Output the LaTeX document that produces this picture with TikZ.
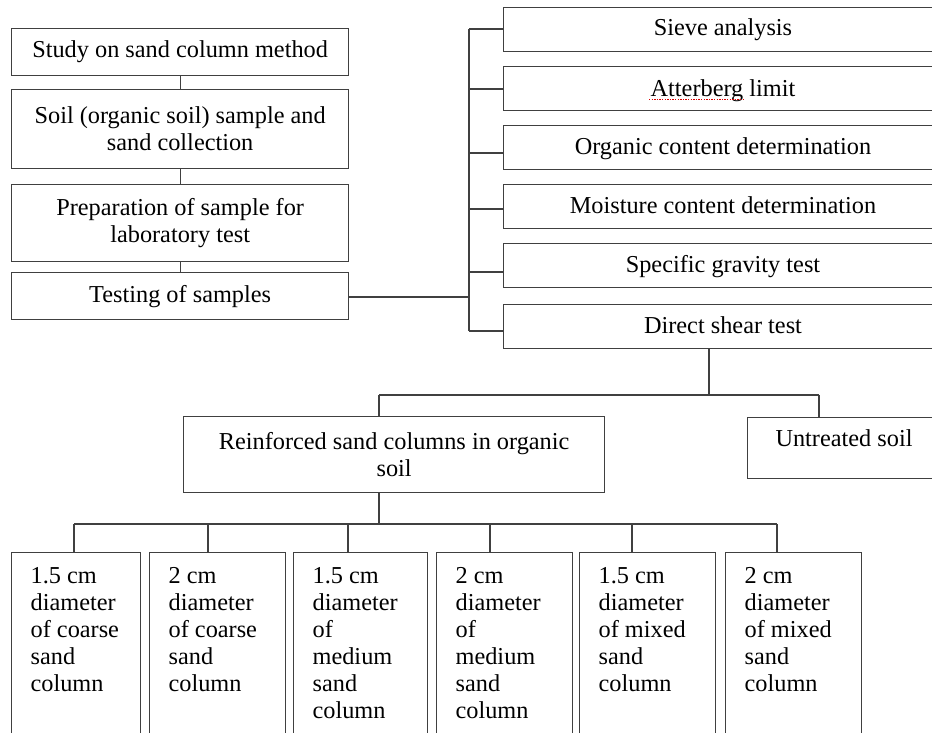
\documentclass[tikz,border=0pt]{standalone}
\usepackage{fontspec}
\setmainfont{Liberation Serif}
\usetikzlibrary{calc}
\newcommand{\colcell}[2]{\parbox[t][195pt][t]{#1}{\raggedright\strut #2}}
\begin{document}
\begin{tikzpicture}[x=1pt,y=-1pt,
  box/.style={draw=black!75, line width=1.3pt, fill=white, inner sep=0pt,
    font=\fontsize{24.3}{27}\selectfont, align=center, anchor=north west},
  leftbox/.style={box, minimum width=337},
  sidetext/.style={font=\fontsize{24.3}{27}\selectfont, inner sep=0pt, anchor=base},
  bbox/.style={draw=black!75, line width=1.3pt, fill=white, inner xsep=19pt,
    inner ysep=12pt, font=\fontsize{24.3}{27}\selectfont, anchor=north west},
  link/.style={draw=black!75, line width=1.3pt}]
\useasboundingbox (0,0) rectangle (932,733);

% left column
\node[leftbox, minimum height=47] (s1) at (11,28) {Study on sand column method};
\node[leftbox, minimum height=79] (s2) at (11,89) {Soil (organic soil) sample and\\sand collection};
\node[leftbox, minimum height=77] (s3) at (11,184) {Preparation of sample for\\laboratory test};
\node[leftbox, minimum height=47] (s4) at (11,272) {Testing of samples};

\draw[link] (s1.south) -- (s2.north);
\draw[link] (s2.south) -- (s3.north);
\draw[link] (s3.south) -- (s4.north);

% right column of tests (boxes run past the right edge)
\node[box, minimum width=480, minimum height=44] (r1) at (503,7) {};
\node[box, minimum width=480, minimum height=44] (r2) at (503,66) {};
\node[box, minimum width=480, minimum height=44] (r3) at (503,125) {};
\node[box, minimum width=480, minimum height=44] (r4) at (503,184) {};
\node[box, minimum width=480, minimum height=44] (r5) at (503,243) {};
\node[box, minimum width=480, minimum height=44] (r6) at (503,304) {};
\node[sidetext] (r1t) at (723,36) {Sieve analysis};
\node[sidetext] (r2t) at (723,96.5) {Atterberg limit};
\node[sidetext] (r3t) at (723,154) {Organic content determination};
\node[sidetext] (r4t) at (723,213) {Moisture content determination};
\node[sidetext] (r5t) at (723,272) {Specific gravity test};
\node[sidetext] (r6t) at (723,333) {Direct shear test};

\coordinate (k1) at (469,29);
\coordinate (k2) at (469,89);
\coordinate (k3) at (469,153);
\coordinate (k4) at (469,209);
\coordinate (k5) at (469,272);
\coordinate (k6) at (469,331);
\draw[link] (k1) -- (k6);
\draw[link] (k1) -- (k1 -| r1.west);
\draw[link] (k2) -- (k2 -| r2.west);
\draw[link] (k3) -- (k3 -| r3.west);
\draw[link] (k4) -- (k4 -| r4.west);
\draw[link] (k5) -- (k5 -| r5.west);
\draw[link] (k6) -- (k6 -| r6.west);
\coordinate (kt) at (469,297);
\draw[link] (s4.east |- kt) -- (kt);

% spell-check underline
\draw[red!85!black, line width=1.1pt, dash pattern=on 1.3pt off 1.3pt] (649,99.5) -- (743,99.5);

% second level
\node[box, minimum width=421, minimum height=76] (R) at (183,416) {Reinforced sand columns in organic\\soil};
\node[box, minimum width=240, minimum height=61] (U) at (747,417) {};
\node[sidetext] (Ut) at (844,446) {Untreated soil};

\coordinate (d) at (709,395);
\coordinate (dl) at (379,395);
\coordinate (dr) at (819,395);
\draw[link] (d |- r6.south) -- (d);
\draw[link] (dl) -- (dr);
\draw[link] (dl) -- (dl |- R.north);
\draw[link] (dr) -- (dr |- U.north);

% bottom row (boxes run past the bottom edge)
\node[bbox] (b1) at (11,552) {\colcell{91pt}{1.5 cm\\diameter\\of coarse\\sand\\column}};
\node[bbox] (b2) at (149,552) {\colcell{98pt}{2 cm\\diameter\\of coarse\\sand\\column}};
\node[bbox] (b3) at (293,552) {\colcell{96pt}{1.5 cm\\diameter\\of\\medium\\sand\\column}};
\node[bbox] (b4) at (436,552) {\colcell{98pt}{2 cm\\diameter\\of\\medium\\sand\\column}};
\node[bbox] (b5) at (579,552) {\colcell{98pt}{1.5 cm\\diameter\\of mixed\\sand\\column}};
\node[bbox] (b6) at (725,552) {\colcell{98pt}{2 cm\\diameter\\of mixed\\sand\\column}};

\coordinate (m) at (379,524);
\coordinate (t1) at (74,524);
\coordinate (t2) at (208,524);
\coordinate (t3) at (348,524);
\coordinate (t4) at (490,524);
\coordinate (t5) at (632,524);
\coordinate (t6) at (777,524);
\draw[link] (m |- R.south) -- (m);
\draw[link] (t1) -- (t6);
\draw[link] (t1) -- (t1 |- b1.north);
\draw[link] (t2) -- (t2 |- b2.north);
\draw[link] (t3) -- (t3 |- b3.north);
\draw[link] (t4) -- (t4 |- b4.north);
\draw[link] (t5) -- (t5 |- b5.north);
\draw[link] (t6) -- (t6 |- b6.north);
\end{tikzpicture}
\end{document}
